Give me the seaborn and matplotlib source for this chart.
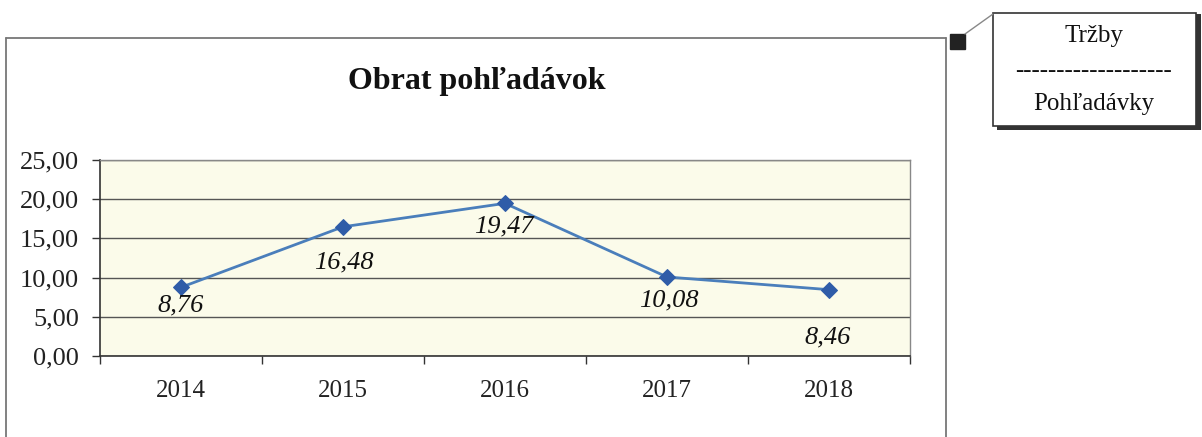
import matplotlib.pyplot as plt
import pandas as pd
import seaborn as sns
from matplotlib.patches import Rectangle
from matplotlib.lines import Line2D
from matplotlib.ticker import FixedLocator, FuncFormatter

years = ["2014", "2015", "2016", "2017", "2018"]
turnover = [8.76, 16.48, 19.47, 10.08, 8.46]
value_labels = ["8,76", "16,48", "19,47", "10,08", "8,46"]
y_ticks = [0, 5, 10, 15, 20, 25]

title = "Obrat pohľadávok"
callout_top = "Tržby"
callout_bottom = "Pohľadávky"

# label placement (pixel offsets from each point, Excel-like)
label_dx = [0, 1, -1, 2, -1]
label_dy = [-18, -36, -23, -23, -48]

sns.set_theme(style="white")
plt.rcParams["font.family"] = ["Liberation Serif", "DejaVu Serif"]

frame = pd.DataFrame({"year": years, "value": turnover})

fig = plt.figure(figsize=(12.02, 4.37), dpi=100)
W, H = 1202, 437


def fx(px):
    return px / W


def fy(py):
    return 1 - py / H


ax = fig.add_axes([fx(100), fy(356), fx(910) - fx(100), fy(160) - fy(356)])
ax.set_facecolor("#fbfbea")

sns.lineplot(
    data=frame, x="year", y="value", sort=False, ax=ax,
    color="#4a7ebb", linewidth=2, marker="D", markersize=8,
    markerfacecolor="#2f5ca8", markeredgecolor="#2f5ca8", zorder=3,
)

ax.set_xlim(-0.5, len(years) - 0.5)
ax.set_ylim(0, 25)
ax.set_yticks(y_ticks)
ax.yaxis.set_major_formatter(FuncFormatter(lambda v, _: f"{v:.2f}".replace(".", ",")))
ax.grid(axis="y", color="#555555", linewidth=1)
ax.set_axisbelow(True)

ax.set_xticks(range(len(years)))
ax.set_xticklabels(years)
ax.xaxis.set_minor_locator(FixedLocator([i - 0.5 for i in range(len(years) + 1)]))
ax.tick_params(axis="x", which="major", length=0, pad=17, labelsize=18, colors="#222222")
ax.tick_params(axis="x", which="minor", length=6, width=1, direction="out", color="#333333", bottom=True)
ax.tick_params(axis="y", length=6, width=1, direction="out", color="#333333", left=True,
               labelsize=19, pad=9, colors="#222222")
ax.set_xlabel("")
ax.set_ylabel("")

for side in ["top", "right"]:
    ax.spines[side].set_color("#888888")
    ax.spines[side].set_linewidth(1)
for side in ["left", "bottom"]:
    ax.spines[side].set_color("#333333")
    ax.spines[side].set_linewidth(1.2)

for i, (val, lab) in enumerate(zip(turnover, value_labels)):
    ax.annotate(
        lab, (i, val), xytext=(label_dx[i] * 0.72, label_dy[i] * 0.72),
        textcoords="offset points", ha="center", va="center",
        fontsize=19, style="italic", color="#111111", zorder=4,
    )

# chart title
fig.text(fx(477), fy(81), title, ha="center", va="center", fontsize=23,
         fontweight="bold", color="#111111")

# outer chart frame (cut off at the bottom)
frame_color = "#777777"
for xs, ys in [([6, 946], [38, 38]), ([6, 6], [38, 437]), ([946, 946], [38, 437])]:
    fig.add_artist(Line2D([fx(x) for x in xs], [fy(y) for y in ys],
                          color=frame_color, linewidth=1.3))

# callout with handle and leader line
fig.add_artist(Rectangle((fx(950), fy(49)), fx(15), fy(34) - fy(49),
                         facecolor="#222222", edgecolor="#222222"))
fig.add_artist(Line2D([fx(965), fx(993)], [fy(34), fy(14)], color="#888888", linewidth=1))
fig.add_artist(Rectangle((fx(997), fy(130)), fx(204), fy(14) - fy(130),
                         facecolor="#333333", edgecolor="none"))
fig.add_artist(Rectangle((fx(993), fy(126)), fx(203), fy(13) - fy(126),
                         facecolor="white", edgecolor="#333333", linewidth=1.2))
fig.text(fx(1094), fy(36), callout_top, ha="center", va="center", fontsize=18, color="#111111")
fig.text(fx(1094), fy(71), "-" * 19, ha="center", va="center", fontsize=18, color="#111111")
fig.text(fx(1094), fy(104), callout_bottom, ha="center", va="center", fontsize=18, color="#111111")

fig.savefig("out.png", dpi=100)
